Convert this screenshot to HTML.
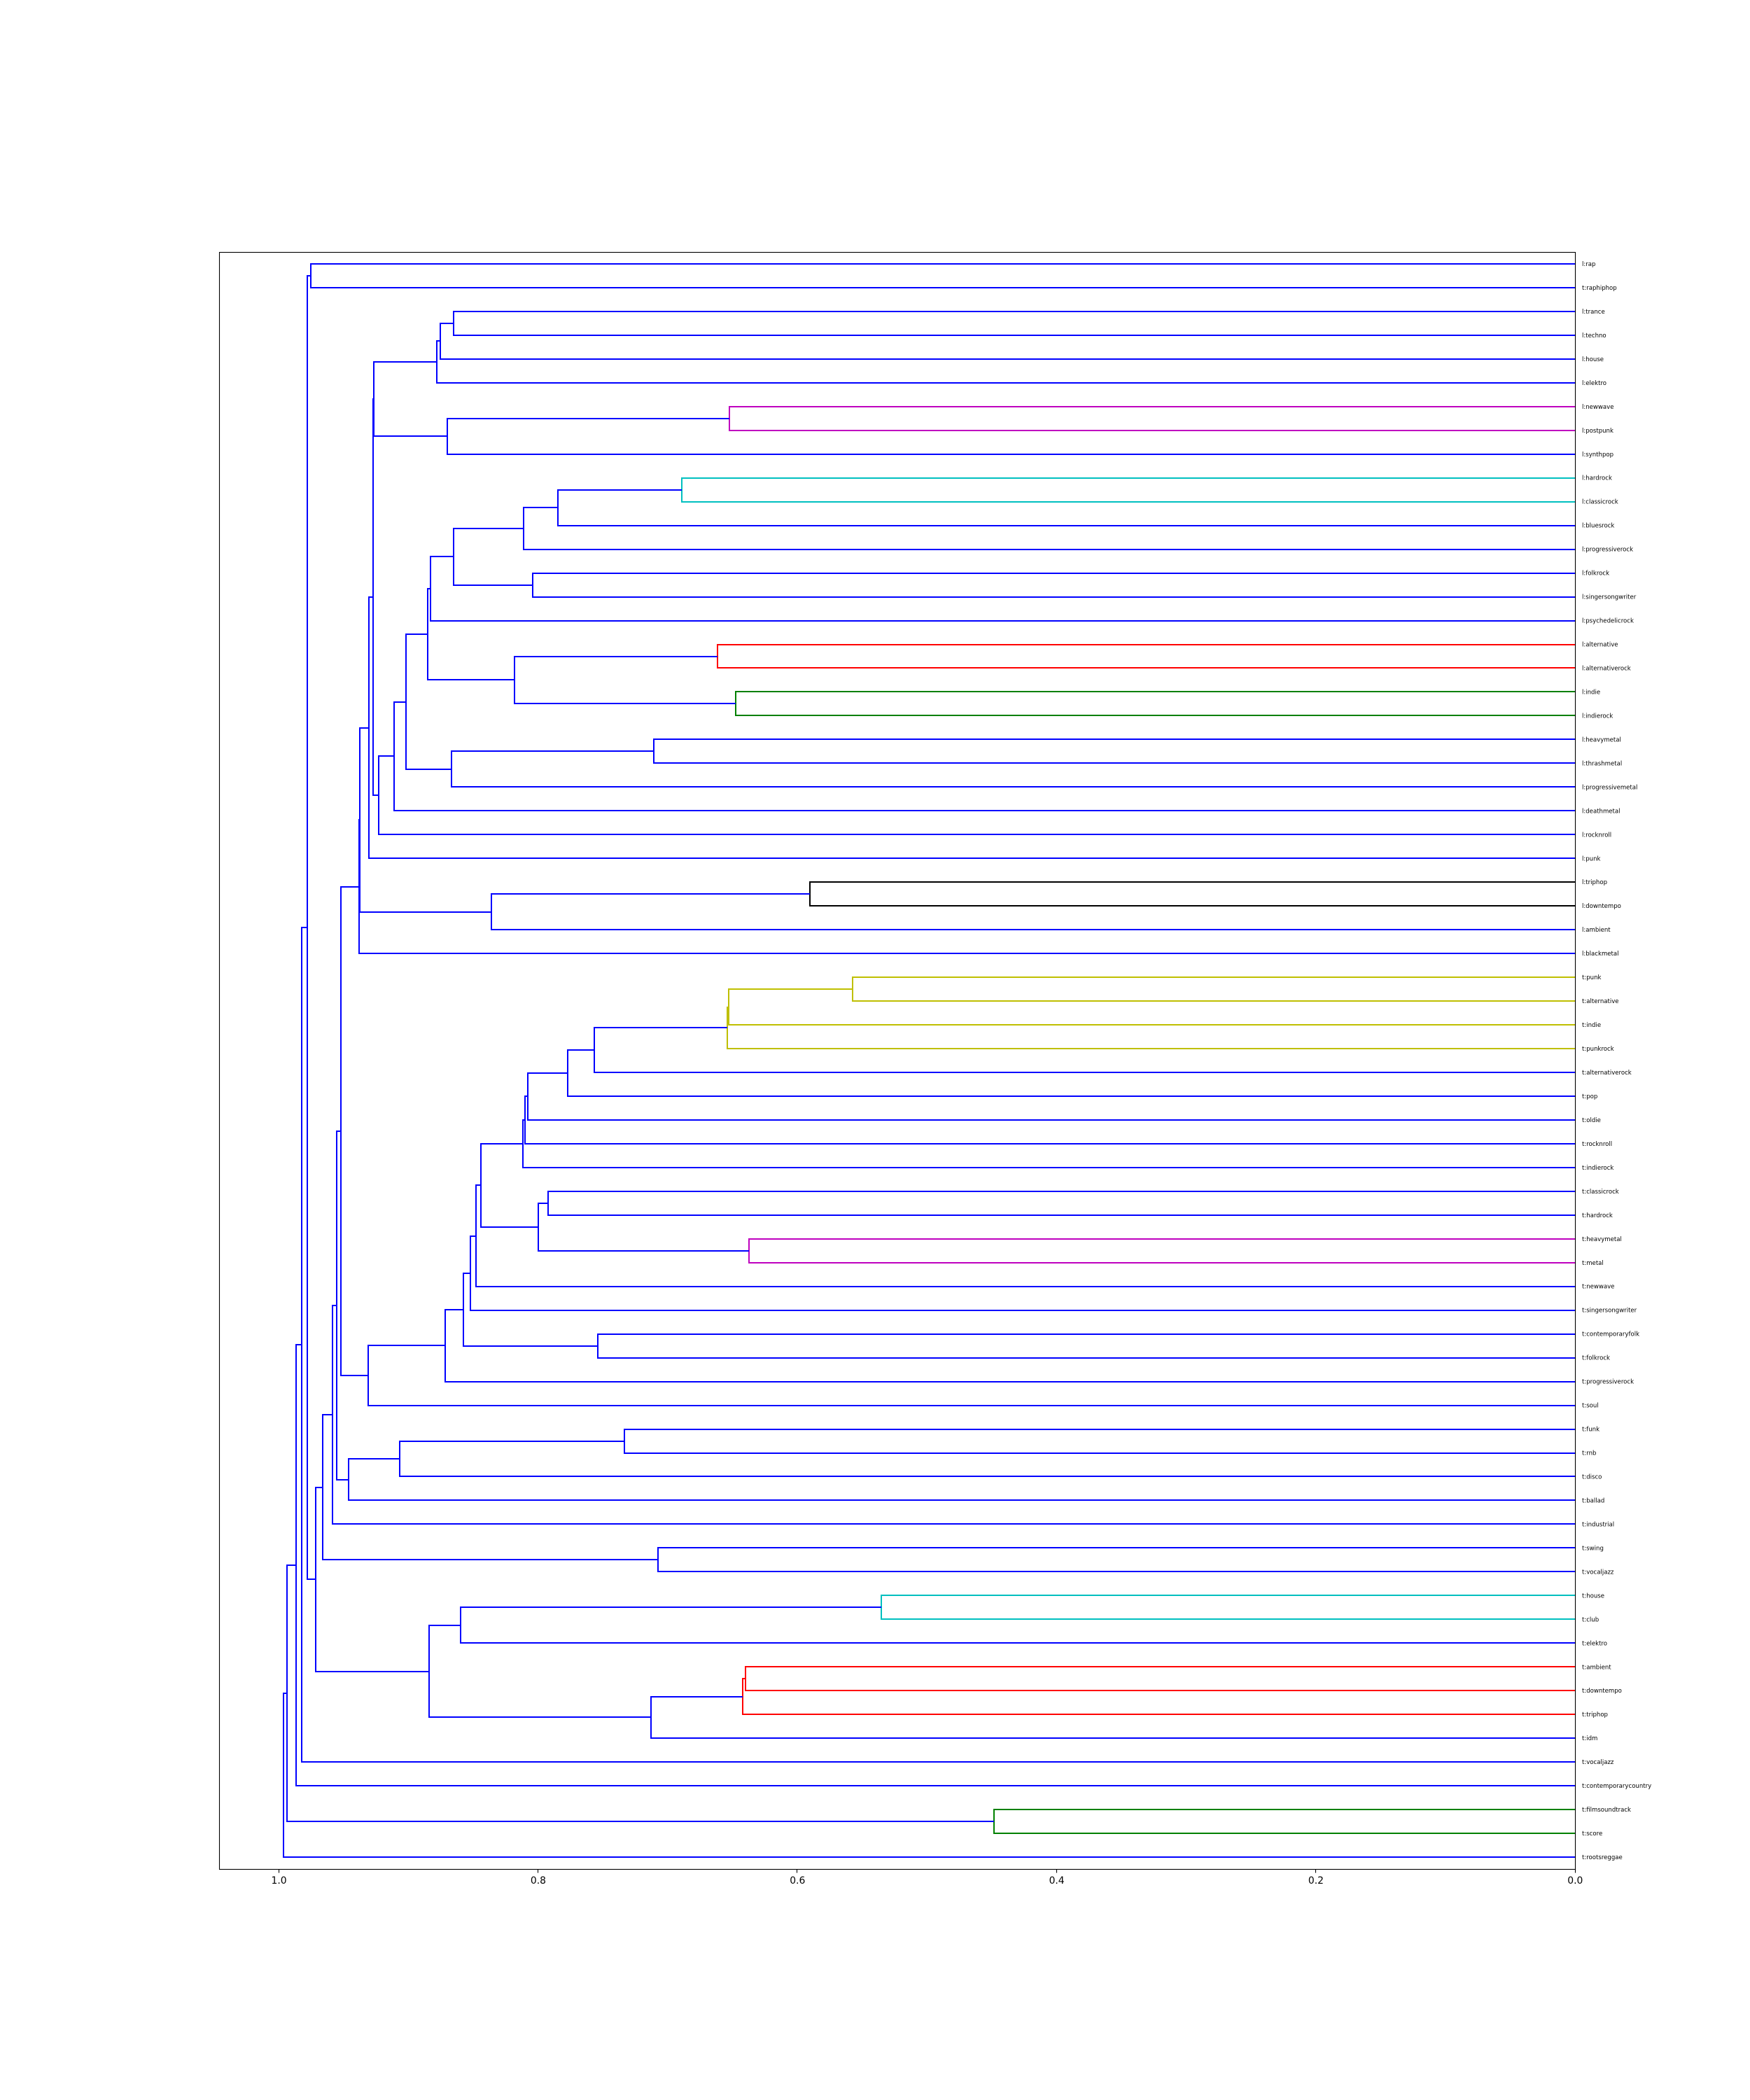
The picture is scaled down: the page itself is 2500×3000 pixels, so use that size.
<!DOCTYPE html>
<html lang="en">
<head>
<meta charset="utf-8">
<title>Tag dendrogram</title>
<style>
html,body{margin:0;padding:0;background:#fff;width:2500px;height:3000px;overflow:hidden}
svg{display:block}
text{font-family:"DejaVu Sans","Liberation Sans",sans-serif;fill:#000}
</style>
</head>
<body>
<svg id="chart" xmlns="http://www.w3.org/2000/svg" width="2500" height="3000" viewBox="0 0 2500 3000">
  <rect x="0" y="0" width="2500" height="3000" fill="#ffffff"/>
  <g id="links"></g>
  <rect x="313.5" y="360.5" width="1937" height="2310" fill="none" stroke="#000" stroke-width="1.1"/>
  <g id="xticks"></g>
  <g id="leaves"></g>
</svg>
<script>
const leafLabels = [
  "l:rap","t:raphiphop","l:trance","l:techno","l:house","l:elektro","l:newwave","l:postpunk","l:synthpop","l:hardrock",
  "l:classicrock","l:bluesrock","l:progressiverock","l:folkrock","l:singersongwriter","l:psychedelicrock","l:alternative","l:alternativerock","l:indie","l:indierock",
  "l:heavymetal","l:thrashmetal","l:progressivemetal","l:deathmetal","l:rocknroll","l:punk","l:triphop","l:downtempo","l:ambient","l:blackmetal",
  "t:punk","t:alternative","t:indie","t:punkrock","t:alternativerock","t:pop","t:oldie","t:rocknroll","t:indierock","t:classicrock",
  "t:hardrock","t:heavymetal","t:metal","t:newwave","t:singersongwriter","t:contemporaryfolk","t:folkrock","t:progressiverock","t:soul","t:funk",
  "t:rnb","t:disco","t:ballad","t:industrial","t:swing","t:vocaljazz","t:house","t:club","t:elektro","t:ambient",
  "t:downtempo","t:triphop","t:idm","t:vocaljazz","t:contemporarycountry","t:filmsoundtrack","t:score","t:rootsreggae"
];
/* Merge i creates node (leafLabels.length + i) from two child nodes. */
const mergeLeft = [0,2,69,70,6,72,71,9,75,76,13,77,79,16,18,81,80,20,85,84,87,88,74,90,26,92,91,94,30,96,97,98,99,100,101,102,39,41,104,103,107,108,45,109,111,112,95,49,115,116,114,118,54,119,56,122,59,124,125,123,121,68,129,130,65,131,133];
const mergeRight = [1,3,4,5,7,8,73,10,11,12,14,78,15,17,19,82,83,21,22,86,23,24,89,25,27,28,93,29,31,32,33,34,35,36,37,38,40,42,105,106,43,44,46,110,47,48,113,50,51,52,117,53,55,120,57,58,60,61,62,126,127,128,63,64,66,132,67];
const mergeDistance = [0.9755,0.8653,0.8755,0.8783,0.6525,0.8701,0.9269,0.6892,0.7848,0.8113,0.8043,0.8653,0.8831,0.6617,0.6476,0.8183,0.8853,0.7105,0.8669,0.9020,0.9112,0.9231,0.9274,0.9306,0.5902,0.8361,0.9377,0.9382,0.5574,0.6530,0.6541,0.7567,0.7772,0.8080,0.8102,0.8118,0.7924,0.6373,0.7999,0.8442,0.8480,0.8523,0.7540,0.8577,0.8718,0.9312,0.9522,0.7334,0.9069,0.9463,0.9555,0.9587,0.7076,0.9663,0.5353,0.8599,0.6401,0.6422,0.7130,0.8842,0.9717,0.9782,0.9825,0.9868,0.4483,0.9938,0.9965];
const mergeColor = ["b","b","b","b","m","b","b","c","b","b","b","b","b","r","g","b","b","b","b","b","b","b","b","b","k","b","b","b","y","y","y","b","b","b","b","b","b","m","b","b","b","b","b","b","b","b","b","b","b","b","b","b","b","b","c","b","r","r","b","b","b","b","b","b","g","b","b"];
const tickValues = [1.0,0.8,0.6,0.4,0.2,0.0];
const tickLabels = ["1.0","0.8","0.6","0.4","0.2","0.0"];

const SVG_NS = "http://www.w3.org/2000/svg";
const colorMap = {b:"#0000ff",g:"#008000",r:"#ff0000",c:"#00bfbf",m:"#bf00bf",y:"#bfbf00",k:"#000000"};
const plot = {left:312.5,right:2250,top:360,bottom:2670};
const xLimit = Math.max(...mergeDistance) * 1.05;
const yLimit = leafLabels.length * 10;
function xScale(d){ return plot.right - d / xLimit * (plot.right - plot.left); }
function yScale(v){ return plot.top + v / yLimit * (plot.bottom - plot.top); }

const nodeY = leafLabels.map(function(_, i){ return i * 10 + 5; });
const nodeD = leafLabels.map(function(){ return 0; });
const linkGroup = document.getElementById("links");
mergeDistance.forEach(function(d, i){
  const a = mergeLeft[i], b = mergeRight[i];
  const path = document.createElementNS(SVG_NS, "path");
  path.setAttribute("d",
    "M" + Math.round(xScale(nodeD[a])) + " " + Math.round(yScale(nodeY[a])) +
    "L" + Math.round(xScale(d)) + " " + Math.round(yScale(nodeY[a])) +
    "L" + Math.round(xScale(d)) + " " + Math.round(yScale(nodeY[b])) +
    "L" + Math.round(xScale(nodeD[b])) + " " + Math.round(yScale(nodeY[b])));
  path.setAttribute("fill", "none");
  path.setAttribute("stroke", colorMap[mergeColor[i]]);
  path.setAttribute("stroke-width", "2");
  path.setAttribute("stroke-linejoin", "miter");
  
  
  linkGroup.appendChild(path);
  nodeY.push((nodeY[a] + nodeY[b]) / 2);
  nodeD.push(d);
});

const leafGroup = document.getElementById("leaves");
leafLabels.forEach(function(label, i){
  const t = document.createElementNS(SVG_NS, "text");
  t.setAttribute("x", plot.right + 10);
  t.setAttribute("y", yScale(nodeY[i]) + 3);
  t.setAttribute("font-size", "8.55");
  t.setAttribute("fill", "#000");
  
  
  t.textContent = label;
  leafGroup.appendChild(t);
});

const tickGroup = document.getElementById("xticks");
tickValues.forEach(function(v, i){
  const px = xScale(v);
  const mark = document.createElementNS(SVG_NS, "line");
  mark.setAttribute("x1", Math.floor(px) + 0.5);
  mark.setAttribute("x2", Math.floor(px) + 0.5);
  mark.setAttribute("y1", plot.bottom);
  mark.setAttribute("y2", plot.bottom + 5.5);
  mark.setAttribute("stroke", "#000");
  mark.setAttribute("stroke-width", "1.1");
  
  
  tickGroup.appendChild(mark);
  const t = document.createElementNS(SVG_NS, "text");
  t.setAttribute("x", px + 0.3);
  t.setAttribute("y", plot.bottom + 21);
  t.setAttribute("font-size", "13.89");
  t.setAttribute("text-anchor", "middle");
  
  
  t.textContent = tickLabels[i];
  tickGroup.appendChild(t);
});
</script>
</body>
</html>
